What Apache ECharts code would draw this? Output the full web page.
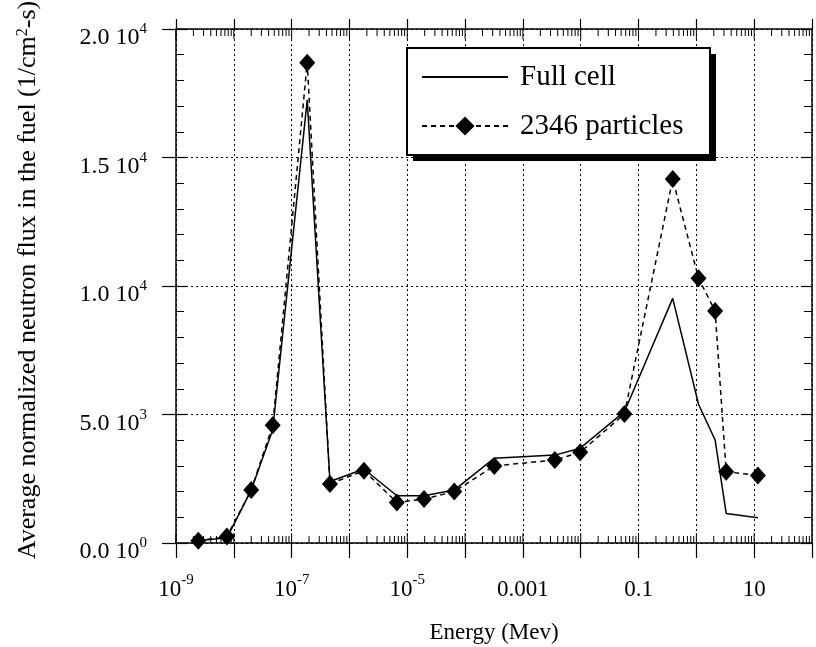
<!DOCTYPE html>
<html>
<head>
<meta charset="utf-8">
<script src="https://cdn.jsdelivr.net/npm/echarts@6/dist/echarts.min.js"></script>
<style>
  html, body { margin: 0; padding: 0; background: #fff; }
  #graf1 { width: 816px; height: 647px; }
</style>
</head>
<body>
<div id="graf1"></div>
<script>
// datos (energia en MeV)
var energies = [2.43e-9, 7.6e-9, 2.0e-8, 4.7e-8, 1.86e-7, 4.6e-7, 1.78e-6, 6.6e-6, 1.95e-5, 6.5e-5,
  3.2e-4, 3.56e-3, 9.8e-3, 0.057, 0.39, 1.09, 2.11, 3.28, 11.6];
var fullCell = [90, 200, 2060, 4400, 17240, 2390, 2880, 1840, 1840, 2060,
  3300, 3420, 3690, 5110, 9520, 5400, 4010, 1150, 985];
var particles = [90, 250, 2060, 4580, 18690, 2300, 2815, 1580, 1710, 2000,
  3000, 3230, 3530, 5020, 14160, 10300, 9030, 2775, 2630];

// ticks del eje x
var decades = [-9, -8, -7, -6, -5, -4, -3, -2, -1, 0, 1];
var minorSteps = [2, 3, 4, 5, 6, 7, 8, 9];
var xLabels = { '-9': 'sup', '-7': 'sup', '-5': 'sup', '-3': '0.001', '-1': '0.1', '1': '10' };

var font = "'Liberation Serif', 'Times New Roman', serif";

function pairs(xs, ys) {
  var out = [];
  for (var i = 0; i < xs.length; i++) out.push([xs[i], ys[i]]);
  return out;
}

// marcas menores del eje log (arriba y abajo, hacia adentro)
var tickData = [];
decades.forEach(function (d) {
  tickData.push([Math.pow(10, d), 10]);
  minorSteps.forEach(function (k) {
    tickData.push([k * Math.pow(10, d), 7]);
  });
});

var myChart = echarts.init(document.getElementById('graf1'));

var option = {
  animation: false,
  backgroundColor: '#fff',
  textStyle: { fontFamily: font, color: '#000' },
  grid: { left: 176, right: 4, top: 29, bottom: 104, containLabel: false, outerBoundsMode: 'none' },
  // caja de la leyenda con sombra
  graphic: [
    { type: 'rect', z: 5, shape: { x: 413, y: 54, width: 303, height: 107 }, style: { fill: '#000' } },
    { type: 'rect', z: 6, shape: { x: 407, y: 48, width: 303, height: 107 }, style: { fill: '#fff', stroke: '#000', lineWidth: 2 } }
  ],
  legend: {
    orient: 'vertical',
    left: 407,
    top: 48,
    z: 10,
    padding: [14, 33, 14, 14],
    itemGap: 19,
    itemWidth: 86,
    itemHeight: 24,
    textStyle: { fontFamily: font, fontSize: 29, color: '#000', lineHeight: 30, padding: [0, 0, 0, 7] },
    data: [
      { name: 'Full cell', itemStyle: { opacity: 0 } },
      { name: '2346 particles' }
    ]
  },
  xAxis: [
    {
      type: 'log',
      position: 'bottom',
      min: 1e-9,
      max: 100,
      interval: 1,
      name: 'Energy (Mev)',
      nameLocation: 'middle',
      nameGap: 78,
      nameTextStyle: { fontFamily: font, fontSize: 23, color: '#000' },
      axisLine: { onZero: false, lineStyle: { color: '#000', width: 1.5 } },
      axisTick: { show: true, inside: false, length: 15, lineStyle: { color: '#000', width: 1.2 } },
      axisLabel: {
        margin: 30,
        color: '#000',
        formatter: function (v) {
          var e = Math.round(Math.log10(v));
          var l = xLabels[String(e)];
          if (!l) return '';
          if (l === 'sup') return '{m|10}{e|' + e + '}';
          return '{m|' + l + '}';
        },
        rich: {
          m: { fontFamily: font, fontSize: 23, lineHeight: 28, verticalAlign: 'bottom', color: '#000' },
          e: { fontFamily: font, fontSize: 15, lineHeight: 14, verticalAlign: 'top', color: '#000' }
        }
      },
      splitLine: { show: true, lineStyle: { color: '#000', width: 1, type: [2, 3] } }
    },
    {
      type: 'log',
      position: 'top',
      min: 1e-9,
      max: 100,
      interval: 1,
      axisLine: { onZero: false, lineStyle: { color: '#000', width: 1.5 } },
      axisTick: { show: true, inside: false, length: 10, lineStyle: { color: '#000', width: 1.2 } },
      axisLabel: { show: false },
      splitLine: { show: false }
    }
  ],
  yAxis: [
    {
      type: 'value',
      position: 'left',
      min: 0,
      max: 20000,
      interval: 5000,
      name: 'Average normalized neutron flux in the fuel (1/cm{s|2}-s)',
      nameLocation: 'middle',
      nameGap: 135,
      nameTextStyle: {
        fontFamily: font, fontSize: 26, color: '#000', padding: [0, 0, 0, 12],
        rich: { s: { fontFamily: font, fontSize: 16, verticalAlign: 'top', lineHeight: 14, color: '#000' } }
      },
      axisLine: { onZero: false, lineStyle: { color: '#000', width: 1.5 } },
      axisTick: { show: true, inside: false, length: 14, lineStyle: { color: '#000', width: 1.2 } },
      axisLabel: {
        margin: 29,
        color: '#000',
        padding: [14, 0, 0, 0],
        formatter: function (v) {
          var e = v === 0 ? 0 : Math.floor(Math.log10(v));
          var m = (v / Math.pow(10, e)).toFixed(1);
          return '{m|' + m + ' 10}{e|' + e + '}';
        },
        rich: {
          m: { fontFamily: font, fontSize: 24, lineHeight: 28, verticalAlign: 'bottom', color: '#000' },
          e: { fontFamily: font, fontSize: 15, lineHeight: 14, verticalAlign: 'top', color: '#000' }
        }
      },
      splitLine: { show: true, lineStyle: { color: '#000', width: 1, type: [2, 3] } }
    },
    {
      // solo marcas hacia adentro
      type: 'value',
      position: 'left',
      min: 0,
      max: 20000,
      interval: 5000,
      axisLine: { show: false, onZero: false },
      axisTick: { show: true, inside: true, length: 11, lineStyle: { color: '#000', width: 1.2 } },
      minorTick: { show: true, splitNumber: 5, length: 8, lineStyle: { color: '#000', width: 1 } },
      axisLabel: { show: false },
      splitLine: { show: false }
    },
    {
      type: 'value',
      position: 'right',
      min: 0,
      max: 20000,
      interval: 5000,
      axisLine: { show: true, onZero: false, lineStyle: { color: '#000', width: 1.5 } },
      axisTick: { show: true, inside: true, length: 11, lineStyle: { color: '#000', width: 1.2 } },
      minorTick: { show: true, splitNumber: 5, length: 8, lineStyle: { color: '#000', width: 1 } },
      axisLabel: { show: false },
      splitLine: { show: false }
    }
  ],
  series: [
    {
      name: 'ticks',
      type: 'custom',
      silent: true,
      xAxisIndex: 0,
      yAxisIndex: 0,
      renderItem: function (params, api) {
        var v = api.value(0);
        var len = api.value(1);
        var b = api.coord([v, 0]);
        var t = api.coord([v, 20000]);
        var st = { stroke: '#000', lineWidth: 1 };
        return {
          type: 'group',
          children: [
            { type: 'line', shape: { x1: b[0], y1: b[1], x2: b[0], y2: b[1] - len }, style: st },
            { type: 'line', shape: { x1: t[0], y1: t[1], x2: t[0], y2: t[1] + len }, style: st }
          ]
        };
      },
      data: tickData,
      z: 1
    },
    {
      name: 'Full cell',
      type: 'line',
      xAxisIndex: 0,
      yAxisIndex: 0,
      symbol: 'none',
      lineStyle: { color: '#000', width: 1.5, type: 'solid' },
      itemStyle: { color: '#000' },
      data: pairs(energies, fullCell),
      z: 3
    },
    {
      name: '2346 particles',
      type: 'line',
      xAxisIndex: 0,
      yAxisIndex: 0,
      symbol: 'diamond',
      symbolSize: [16, 18],
      showAllSymbol: true,
      lineStyle: { color: '#000', width: 1.5, type: [5, 4] },
      itemStyle: { color: '#000' },
      data: pairs(energies, particles),
      z: 4
    }
  ]
};

myChart.setOption(option);
</script>
</body>
</html>
